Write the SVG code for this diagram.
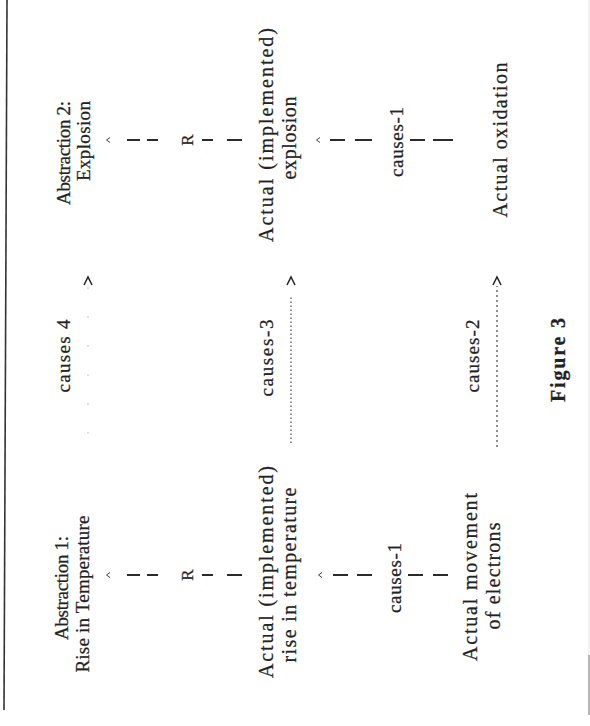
<svg xmlns="http://www.w3.org/2000/svg" width="590" height="726" viewBox="0 0 590 726">
<style>
.t{font-family:"Liberation Serif","Times New Roman",serif;font-size:19px;fill:#222;stroke:#222;stroke-width:0.25;text-anchor:middle}
.m{font-size:20px}
.b{font-weight:bold;font-size:20px}
.r{font-size:17px}
.dash{stroke:#2a2a2a;stroke-width:2;fill:none}
.car{stroke:#444;stroke-width:1;fill:none}
.dot{stroke:#555;stroke-width:1.3;stroke-dasharray:1.5 2.5;fill:none}
.faint{stroke:#cfcfcf;stroke-width:1.3;stroke-dasharray:2 27;fill:none}
.head{stroke:#222;stroke-width:1.5;fill:none}
</style>
<rect x="0" y="0" width="590" height="726" fill="#ffffff"/>
<g transform="translate(0,726) rotate(-90)">
  <g id="border">
    <line x1="16" y1="4" x2="726" y2="7" stroke="#333" stroke-width="1.6"/>
    <line x1="71" y1="589" x2="726" y2="589" stroke="#e6e6e6" stroke-width="1"/>
    <line x1="11" y1="589" x2="71" y2="589" stroke="#888" stroke-width="1.2"/>
  </g>
  <g id="node-abstraction1">
    <text class="t" x="138" y="68" textLength="104" lengthAdjust="spacing">Abstraction 1:</text>
    <text class="t" x="132" y="89" textLength="157" lengthAdjust="spacing">Rise in Temperature</text>
  </g>
  <g id="node-actual-temperature">
    <text class="t m" x="154" y="273" textLength="212" lengthAdjust="spacing">Actual (implemented)</text>
    <text class="t m" x="151" y="296" textLength="175" lengthAdjust="spacing">rise in temperature</text>
  </g>
  <g id="node-electrons">
    <text class="t m" x="149" y="477" textLength="168" lengthAdjust="spacing">Actual movement</text>
    <text class="t m" x="150" y="500" textLength="107" lengthAdjust="spacing">of electrons</text>
  </g>
  <g id="node-abstraction2">
    <text class="t" x="573" y="70" textLength="104" lengthAdjust="spacing">Abstraction 2:</text>
    <text class="t" x="585" y="90" textLength="80" lengthAdjust="spacing">Explosion</text>
  </g>
  <g id="node-actual-explosion">
    <text class="t m" x="591" y="273" textLength="214" lengthAdjust="spacing">Actual (implemented)</text>
    <text class="t m" x="588" y="296" textLength="83" lengthAdjust="spacing">explosion</text>
  </g>
  <g id="node-oxidation">
    <text class="t m" x="586" y="507" textLength="155" lengthAdjust="spacing">Actual oxidation</text>
  </g>
  <g id="connectors">
    <path class="car" d="M148.5,110 L151,106.5 L153.5,110"/>
    <path class="dash" d="M151,127 V140 M151,147 V158 M151,202 V213 M151,227 V242"/>
    <text class="t r" x="151" y="193">R</text>
    <path class="car" d="M148.5,322 L151,318.5 L153.5,322"/>
    <path class="dash" d="M151,333 V348 M151,357 V372 M151,408 V423 M151,433 V448"/>
    <text class="t" x="148" y="401" textLength="70" lengthAdjust="spacing">causes-1</text>
    <path class="car" d="M583.5,110 L586,106.5 L588.5,110"/>
    <path class="dash" d="M586,127 V140 M586,147 V158 M586,202 V213 M586,227 V242"/>
    <text class="t r" x="586" y="193">R</text>
    <path class="car" d="M583.5,320 L586,316.5 L588.5,320"/>
    <path class="dash" d="M586,330 V345 M586,355 V372 M586,410 V425 M586,433 V453"/>
    <text class="t" x="584" y="403" textLength="70" lengthAdjust="spacing">causes-1</text>
    <path class="faint" d="M292,88 H440"/>
    <path class="head" d="M441,84 L449,88 L441,92"/>
    <text class="t" x="370" y="70" textLength="73" lengthAdjust="spacing">causes 4</text>
    <path class="dot" d="M283,291 H430"/>
    <path class="head" d="M441,287 L449,291 L441,295"/>
    <text class="t" x="368" y="273" textLength="77" lengthAdjust="spacing">causes-3</text>
    <path class="dot" d="M279,497 H440" style="stroke-dasharray:2 3"/>
    <path class="head" d="M441,493 L449,497 L441,501"/>
    <text class="t" x="370" y="479" textLength="73" lengthAdjust="spacing">causes-2</text>
  </g>
  <g id="caption">
    <text class="t b" x="366" y="565" textLength="84" lengthAdjust="spacing">Figure 3</text>
  </g>
</g>
</svg>
